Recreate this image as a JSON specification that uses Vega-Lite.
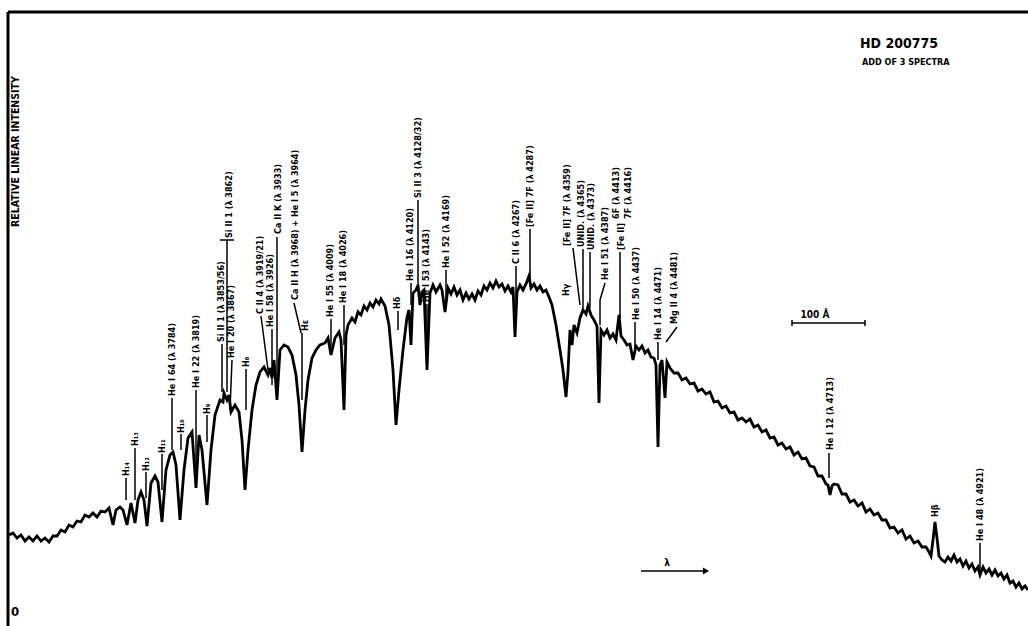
{
  "$schema": "https://vega.github.io/schema/vega-lite/v6.json",
  "autosize": {"type": "none"},
  "width": 1020,
  "height": 614,
  "padding": {"left": 8, "top": 12, "right": 0, "bottom": 0},
  "background": "white",
  "view": {"stroke": null},
  "config": {"font": "Liberation Sans Narrow, DejaVu Sans Condensed, DejaVu Sans, sans-serif"},
  "datasets": {
    "spec": [
      {"l":3557.6,"v":91},{"l":3563.2,"v":93},{"l":3568.8,"v":88},{"l":3574.4,"v":91},{"l":3580,"v":85},{"l":3585.6,"v":89},{"l":3591.2,"v":85},{"l":3596.8,"v":90},{"l":3602.4,"v":85},{"l":3608,"v":88},{"l":3613.6,"v":84},{"l":3619.2,"v":90},{"l":3624.8,"v":90},{"l":3630.4,"v":96},{"l":3636,"v":94},{"l":3641.6,"v":101},{"l":3647.2,"v":99},{"l":3652.8,"v":105},{"l":3658.4,"v":104},{"l":3664,"v":111},{"l":3669.6,"v":109},{"l":3675.2,"v":113},{"l":3680.8,"v":109},{"l":3686.4,"v":115},{"l":3692,"v":114},{"l":3697.6,"v":118},{"l":3703.2,"v":101},{"l":3707.4,"v":116},{"l":3713,"v":119},{"l":3717.2,"v":116},
      {"l":3722.8,"v":101},{"l":3728.4,"v":123},{"l":3734,"v":103},{"l":3738.2,"v":126},{"l":3742.4,"v":134},{"l":3746.6,"v":126},{"l":3750.8,"v":100},{"l":3756.4,"v":143},{"l":3762,"v":150},{"l":3766.2,"v":144},{"l":3771.8,"v":104},{"l":3777.4,"v":156},{"l":3783,"v":171},{"l":3787.2,"v":174},{"l":3791.4,"v":161},{"l":3797,"v":106},{"l":3802.6,"v":156},{"l":3808.2,"v":188},{"l":3813.8,"v":194},{"l":3819.4,"v":138},{"l":3823.6,"v":191},{"l":3827.8,"v":176},{"l":3834.8,"v":121},{"l":3840.4,"v":176},{"l":3846,"v":211},{"l":3853,"v":226},{"l":3857.2,"v":224},{"l":3858.6,"v":233},{"l":3862.8,"v":226},{"l":3865.6,"v":231},{"l":3868.4,"v":214},{"l":3874,"v":221},{"l":3879.6,"v":214},{"l":3883.8,"v":186},{"l":3888,"v":136},{"l":3892.2,"v":176},{"l":3897.8,"v":216},{"l":3903.4,"v":241},{"l":3909,"v":254},{"l":3914.6,"v":259},{"l":3920.2,"v":251},{"l":3923,"v":258},{"l":3925.8,"v":248},{"l":3928.6,"v":266},{"l":3932.8,"v":226},{"l":3937,"v":276},{"l":3942.6,"v":281},{"l":3948.2,"v":279},{"l":3953.8,"v":271},{"l":3959.4,"v":251},{"l":3963.6,"v":221},{"l":3967.8,"v":174},{"l":3972,"v":216},{"l":3976.2,"v":246},{"l":3981.8,"v":268},{"l":3987.4,"v":276},{"l":3993,"v":281},{"l":4000,"v":283},{"l":4004.2,"v":288},{"l":4008.4,"v":271},{"l":4014,"v":288},{"l":4019.6,"v":294},{"l":4022.4,"v":286},{"l":4026.6,"v":216},{"l":4029.4,"v":291},{"l":4032.2,"v":301},{"l":4037.8,"v":308},{"l":4042,"v":304},{"l":4046.2,"v":314},{"l":4050.4,"v":311},{"l":4054.6,"v":320},{"l":4058.8,"v":316},{"l":4063,"v":323},{"l":4067.2,"v":319},{"l":4071.4,"v":326},{"l":4075.6,"v":322},{"l":4078.4,"v":327},{"l":4084,"v":320},{"l":4089.6,"v":301},{"l":4095.2,"v":256},{"l":4099.4,"v":201},{"l":4103.6,"v":236},{"l":4109.2,"v":276},{"l":4114.8,"v":309},{"l":4117.6,"v":316},{"l":4120.4,"v":281},{"l":4123.2,"v":333},{"l":4127.4,"v":336},{"l":4130.2,"v":341},{"l":4133,"v":321},{"l":4135.8,"v":334},{"l":4138.6,"v":336},{"l":4142.8,"v":256},{"l":4147,"v":333},{"l":4151.2,"v":341},{"l":4155.4,"v":334},{"l":4161,"v":341},{"l":4163.8,"v":336},{"l":4168,"v":314},{"l":4172.2,"v":338},{"l":4176.4,"v":332},{"l":4180.6,"v":339},{"l":4184.8,"v":331},{"l":4189,"v":336},{"l":4193.2,"v":326},{"l":4197.4,"v":333},{"l":4201.6,"v":327},{"l":4205.8,"v":332},{"l":4210,"v":326},{"l":4214.2,"v":335},{"l":4218.4,"v":331},{"l":4222.6,"v":340},{"l":4226.8,"v":336},{"l":4231,"v":343},{"l":4235.2,"v":338},{"l":4239.4,"v":345},{"l":4243.6,"v":339},{"l":4247.8,"v":342},{"l":4252,"v":335},{"l":4256.2,"v":340},{"l":4260.4,"v":334},{"l":4263.2,"v":339},{"l":4266,"v":289},{"l":4268.8,"v":334},{"l":4273,"v":341},{"l":4277.2,"v":336},{"l":4281.4,"v":342},{"l":4285.6,"v":350},{"l":4288.4,"v":338},{"l":4292.6,"v":342},{"l":4296.8,"v":336},{"l":4301,"v":340},{"l":4305.2,"v":334},{"l":4309.4,"v":336},{"l":4313.6,"v":329},{"l":4317.8,"v":321},{"l":4323.4,"v":301},{"l":4329,"v":276},{"l":4333.2,"v":256},{"l":4337.4,"v":229},{"l":4340.2,"v":254},{"l":4343,"v":296},{"l":4345.8,"v":281},{"l":4348.6,"v":301},{"l":4352.8,"v":293},{"l":4357,"v":308},{"l":4361.2,"v":316},{"l":4365.4,"v":312},{"l":4368.2,"v":320},{"l":4372.4,"v":311},{"l":4376.6,"v":306},{"l":4380.8,"v":300},{"l":4383.6,"v":223},{"l":4386.4,"v":296},{"l":4390.6,"v":291},{"l":4394.8,"v":296},{"l":4399,"v":288},{"l":4403.2,"v":292},{"l":4407.4,"v":286},{"l":4411.6,"v":311},{"l":4414.4,"v":290},{"l":4418.6,"v":286},{"l":4422.8,"v":281},{"l":4427,"v":282},{"l":4431.2,"v":266},{"l":4435.4,"v":280},{"l":4439.6,"v":276},{"l":4443.8,"v":280},{"l":4448,"v":273},{"l":4452.2,"v":276},{"l":4456.4,"v":269},{"l":4460.6,"v":268},{"l":4463.4,"v":261},{"l":4466.2,"v":179},{"l":4469,"v":261},{"l":4471.8,"v":266},{"l":4476,"v":228},{"l":4478.8,"v":264},{"l":4483,"v":258},
      {"l":4488.6,"v":253},{"l":4494.2,"v":253},{"l":4499.8,"v":246},{"l":4505.4,"v":248},{"l":4511,"v":242},{"l":4516.6,"v":243},{"l":4522.2,"v":235},{"l":4527.8,"v":237},{"l":4533.4,"v":232},{"l":4539,"v":234},{"l":4544.6,"v":224},{"l":4550.2,"v":225},{"l":4555.8,"v":218},{"l":4561.4,"v":220},{"l":4567,"v":213},{"l":4572.6,"v":214},{"l":4578.2,"v":206},{"l":4583.8,"v":208},{"l":4589.4,"v":204},{"l":4595,"v":207},{"l":4600.6,"v":199},{"l":4606.2,"v":201},{"l":4611.8,"v":194},{"l":4617.4,"v":196},{"l":4623,"v":188},{"l":4628.6,"v":189},{"l":4634.2,"v":181},{"l":4639.8,"v":183},{"l":4645.4,"v":177},{"l":4651,"v":179},{"l":4656.6,"v":171},{"l":4662.2,"v":174},{"l":4667.8,"v":167},{"l":4673.4,"v":168},{"l":4679,"v":160},{"l":4684.6,"v":159},{"l":4690.2,"v":150},{"l":4695.8,"v":150},{"l":4701.4,"v":142},{"l":4704.2,"v":141},{"l":4707,"v":131},{"l":4709.8,"v":140},{"l":4712.6,"v":142},{"l":4718.2,"v":141},{"l":4723.8,"v":132},{"l":4729.4,"v":132},{"l":4735,"v":124},{"l":4740.6,"v":126},{"l":4746.2,"v":120},{"l":4751.8,"v":123},{"l":4757.4,"v":114},{"l":4763,"v":117},{"l":4768.6,"v":111},{"l":4774.2,"v":113},{"l":4779.8,"v":106},{"l":4785.4,"v":106},{"l":4791,"v":98},{"l":4796.6,"v":99},{"l":4802.2,"v":93},{"l":4807.8,"v":96},{"l":4813.4,"v":87},{"l":4819,"v":90},{"l":4824.6,"v":83},{"l":4830.2,"v":85},{"l":4835.8,"v":79},{"l":4841.4,"v":79},{"l":4845.6,"v":74},{"l":4848.4,"v":70},{"l":4851.2,"v":86},{"l":4854,"v":104},{"l":4856.8,"v":88},{"l":4859.6,"v":70},{"l":4863.8,"v":66},{"l":4868,"v":64},{"l":4872.2,"v":69},{"l":4876.4,"v":65},{"l":4880.6,"v":71},{"l":4884.8,"v":64},{"l":4889,"v":67},{"l":4893.2,"v":60},{"l":4897.4,"v":65},{"l":4901.6,"v":58},{"l":4905.8,"v":62},{"l":4910,"v":55},{"l":4914.2,"v":59},{"l":4917,"v":51},{"l":4921.2,"v":59},{"l":4925.4,"v":53},{"l":4929.6,"v":57},{"l":4933.8,"v":51},{"l":4938,"v":56},{"l":4942.2,"v":50},{"l":4946.4,"v":53},{"l":4950.6,"v":47},{"l":4954.8,"v":51},{"l":4959,"v":43},{"l":4963.2,"v":45},{"l":4967.4,"v":39},{"l":4971.6,"v":43},{"l":4975.8,"v":37},{"l":4980,"v":40},{"l":4984.2,"v":36}
    ],
    "ticks": [
      {"l":3721.4,"v":148,"l2":3721.4,"v2":126},
      {"l":3734,"v":178,"l2":3734,"v2":126},
      {"l":3749.4,"v":154,"l2":3749.4,"v2":128},
      {"l":3771.8,"v":172,"l2":3771.8,"v2":136},
      {"l":3785.8,"v":228,"l2":3785.8,"v2":176},
      {"l":3798.4,"v":192,"l2":3798.4,"v2":176},
      {"l":3819.4,"v":236,"l2":3819.4,"v2":160},
      {"l":3834.8,"v":211,"l2":3834.8,"v2":184},
      {"l":3855.8,"v":282,"l2":3855.8,"v2":234},
      {"l":3869.8,"v":266,"l2":3867,"v2":216},
      {"l":3853,"v":386,"l2":3872.6,"v2":386},
      {"l":3862.8,"v":386,"l2":3862.8,"v2":234},
      {"l":3889.4,"v":257,"l2":3889.4,"v2":216},
      {"l":3910.4,"v":310,"l2":3920.2,"v2":256},
      {"l":3925.8,"v":297,"l2":3925.8,"v2":241},
      {"l":3932.8,"v":389,"l2":3932.8,"v2":226},
      {"l":3956.6,"v":323,"l2":3966.4,"v2":293},
      {"l":3967.8,"v":293,"l2":3967.8,"v2":226},
      {"l":4008.4,"v":307,"l2":4008.4,"v2":279},
      {"l":4026.6,"v":321,"l2":4026.6,"v2":281},
      {"l":4102.2,"v":315,"l2":4102.2,"v2":296},
      {"l":4120.4,"v":343,"l2":4120.4,"v2":321},
      {"l":4130.2,"v":426,"l2":4130.2,"v2":341},
      {"l":4142.8,"v":322,"l2":4142.8,"v2":276},
      {"l":4169.4,"v":356,"l2":4169.4,"v2":323},
      {"l":4267.4,"v":360,"l2":4267.4,"v2":326},
      {"l":4287,"v":397,"l2":4287,"v2":348},
      {"l":4347.2,"v":378,"l2":4357,"v2":321},
      {"l":4361.2,"v":377,"l2":4361.2,"v2":318},
      {"l":4371,"v":374,"l2":4371,"v2":318},
      {"l":4392,"v":343,"l2":4385,"v2":326},
      {"l":4385,"v":326,"l2":4385,"v2":301},
      {"l":4413,"v":374,"l2":4413,"v2":308},
      {"l":4434,"v":304,"l2":4434,"v2":276},
      {"l":4466.2,"v":284,"l2":4466.2,"v2":266},
      {"l":4492.8,"v":299,"l2":4477.4,"v2":284},
      {"l":4705.6,"v":173,"l2":4705.6,"v2":148},
      {"l":4917,"v":83,"l2":4917,"v2":56},
      {"l":4653.8,"v":303,"l2":4756,"v2":303},
      {"l":4653.8,"v":300,"l2":4653.8,"v2":306},
      {"l":4756,"v":300,"l2":4756,"v2":306},
      {"l":4442.4,"v":55,"l2":4531,"v2":55}
    ],
    "frame": [
      {"l":3556.2,"v":614,"l2":4984.2,"v2":614},
      {"l":3556.2,"v":0,"l2":3556.2,"v2":614}
    ],
    "labels": [
      {"t":"H₁₄","l":3721.4,"v":150},
      {"t":"H₁₃","l":3734,"v":180},
      {"t":"H₁₂","l":3749.4,"v":155},
      {"t":"H₁₁","l":3771.8,"v":173},
      {"t":"He I 64 (λ 3784)","l":3785.8,"v":230},
      {"t":"H₁₀","l":3798.4,"v":193},
      {"t":"He I 22 (λ 3819)","l":3819.4,"v":238},
      {"t":"H₉","l":3834.8,"v":212},
      {"t":"Si II 1 (λ 3853/56)","l":3854.4,"v":284},
      {"t":"He I 20 (λ 3867)","l":3868.4,"v":268},
      {"t":"Si II 1 (λ 3862)","l":3865.6,"v":388},
      {"t":"H₈","l":3889.4,"v":259},
      {"t":"C II 4 (λ 3919/21)","l":3909,"v":312},
      {"t":"He I 58 (λ 3926)","l":3923,"v":299},
      {"t":"Ca II K (λ 3933)","l":3934.2,"v":392},
      {"t":"Ca II H (λ 3968) + He I 5 (λ 3964)","l":3958,"v":326},
      {"t":"Hε","l":3972,"v":295},
      {"t":"He I 55 (λ 4009)","l":4007,"v":309},
      {"t":"He I 18 (λ 4026)","l":4025.2,"v":323},
      {"t":"Hδ","l":4100.8,"v":317},
      {"t":"He I 16 (λ 4120)","l":4119,"v":345},
      {"t":"Si II 3 (λ 4128/32)","l":4130.2,"v":428},
      {"t":"He I 53 (λ 4143)","l":4141.4,"v":324},
      {"t":"He I 52 (λ 4169)","l":4169.4,"v":358},
      {"t":"C II 6 (λ 4267)","l":4267.4,"v":362},
      {"t":"[Fe II] 7F (λ 4287)","l":4287,"v":399},
      {"t":"Hγ","l":4337.4,"v":330},
      {"t":"[Fe II] 7F (λ 4359)","l":4338.8,"v":380},
      {"t":"UNID. (λ 4365)","l":4358.4,"v":379},
      {"t":"UNID. (λ 4373)","l":4372.4,"v":376},
      {"t":"He I 51 (λ 4387)","l":4392,"v":346},
      {"t":"[Fe II]","l":4414.4,"v":376},
      {"t":"6F (λ 4413)","l":4407.4,"v":407},
      {"t":"7F (λ 4416)","l":4424.2,"v":407},
      {"t":"He I 50 (λ 4437)","l":4435.4,"v":306},
      {"t":"He I 14 (λ 4471)","l":4466.2,"v":286},
      {"t":"Mg II 4 (λ 4481)","l":4488.6,"v":302},
      {"t":"He I 12 (λ 4713)","l":4707,"v":176},
      {"t":"Hβ","l":4854,"v":109},
      {"t":"He I 48 (λ 4921)","l":4917,"v":85}
    ]
  },
  "layer": [
    {
      "data": {"name": "frame"},
      "mark": {"type": "rule", "color": "black", "strokeWidth": 3},
      "encoding": {
        "x": {"field": "l", "type": "quantitative", "scale": {"domain": [3556.2, 4984.2], "nice": false, "zero": false}, "axis": null},
        "y": {"field": "v", "type": "quantitative", "scale": {"domain": [0, 614], "nice": false, "zero": false}, "axis": null},
        "x2": {"field": "l2"},
        "y2": {"field": "v2"}
      }
    },
    {
      "data": {"name": "spec"},
      "mark": {"type": "line", "color": "black", "strokeWidth": 2.8, "strokeJoin": "miter"},
      "encoding": {
        "x": {"field": "l", "type": "quantitative", "scale": {"domain": [3556.2, 4984.2], "nice": false, "zero": false}, "axis": null},
        "y": {"field": "v", "type": "quantitative", "scale": {"domain": [0, 614], "nice": false, "zero": false}, "axis": null}
      }
    },
    {
      "data": {"name": "ticks"},
      "mark": {"type": "rule", "color": "black", "strokeWidth": 1.5},
      "encoding": {
        "x": {"field": "l", "type": "quantitative", "scale": {"domain": [3556.2, 4984.2], "nice": false, "zero": false}, "axis": null},
        "y": {"field": "v", "type": "quantitative", "scale": {"domain": [0, 614], "nice": false, "zero": false}, "axis": null},
        "x2": {"field": "l2"},
        "y2": {"field": "v2"}
      }
    },
    {
      "data": {"values": [{"l": 4533.4, "v": 55}]},
      "mark": {"type": "point", "shape": "triangle-right", "filled": true, "color": "black", "size": 50, "opacity": 1},
      "encoding": {
        "x": {"field": "l", "type": "quantitative", "scale": {"domain": [3556.2, 4984.2], "nice": false, "zero": false}, "axis": null},
        "y": {"field": "v", "type": "quantitative", "scale": {"domain": [0, 614], "nice": false, "zero": false}, "axis": null}
      }
    },
    {
      "data": {"name": "labels"},
      "mark": {"type": "text", "angle": 270, "align": "left", "baseline": "middle", "fontSize": 9, "fontWeight": "bold", "color": "black"},
      "encoding": {
        "x": {"field": "l", "type": "quantitative", "scale": {"domain": [3556.2, 4984.2], "nice": false, "zero": false}, "axis": null},
        "y": {"field": "v", "type": "quantitative", "scale": {"domain": [0, 614], "nice": false, "zero": false}, "axis": null},
        "text": {"field": "t"}
      }
    },
    {
      "data": {"values": [{"t": "RELATIVE LINEAR  INTENSITY", "l": 3567.4, "v": 399}]},
      "mark": {"type": "text", "angle": 270, "align": "left", "baseline": "middle", "fontSize": 10.5, "fontWeight": "bold", "color": "black"},
      "encoding": {
        "x": {"field": "l", "type": "quantitative", "scale": {"domain": [3556.2, 4984.2], "nice": false, "zero": false}, "axis": null},
        "y": {"field": "v", "type": "quantitative", "scale": {"domain": [0, 614], "nice": false, "zero": false}, "axis": null},
        "text": {"field": "t"}
      }
    },
    {
      "data": {"values": [{"t": "HD 200775", "l": 4749, "v": 578}]},
      "mark": {"type": "text", "align": "left", "baseline": "alphabetic", "fontSize": 14, "fontWeight": "bold", "color": "black"},
      "encoding": {
        "x": {"field": "l", "type": "quantitative", "scale": {"domain": [3556.2, 4984.2], "nice": false, "zero": false}, "axis": null},
        "y": {"field": "v", "type": "quantitative", "scale": {"domain": [0, 614], "nice": false, "zero": false}, "axis": null},
        "text": {"field": "t"}
      }
    },
    {
      "data": {"values": [{"t": "ADD OF 3 SPECTRA", "l": 4751.8, "v": 561}]},
      "mark": {"type": "text", "align": "left", "baseline": "alphabetic", "fontSize": 9, "fontWeight": "bold", "color": "black"},
      "encoding": {
        "x": {"field": "l", "type": "quantitative", "scale": {"domain": [3556.2, 4984.2], "nice": false, "zero": false}, "axis": null},
        "y": {"field": "v", "type": "quantitative", "scale": {"domain": [0, 614], "nice": false, "zero": false}, "axis": null},
        "text": {"field": "t"}
      }
    },
    {
      "data": {"values": [{"t": "0", "l": 3560.4, "v": 14}]},
      "mark": {"type": "text", "align": "left", "baseline": "middle", "fontSize": 13, "fontWeight": "bold", "color": "black"},
      "encoding": {
        "x": {"field": "l", "type": "quantitative", "scale": {"domain": [3556.2, 4984.2], "nice": false, "zero": false}, "axis": null},
        "y": {"field": "v", "type": "quantitative", "scale": {"domain": [0, 614], "nice": false, "zero": false}, "axis": null},
        "text": {"field": "t"}
      }
    },
    {
      "data": {"values": [{"t": "100 Å", "l": 4686, "v": 308}, {"t": "λ", "l": 4478.8, "v": 60}]},
      "mark": {"type": "text", "align": "center", "baseline": "alphabetic", "fontSize": 10, "fontWeight": "bold", "color": "black"},
      "encoding": {
        "x": {"field": "l", "type": "quantitative", "scale": {"domain": [3556.2, 4984.2], "nice": false, "zero": false}, "axis": null},
        "y": {"field": "v", "type": "quantitative", "scale": {"domain": [0, 614], "nice": false, "zero": false}, "axis": null},
        "text": {"field": "t"}
      }
    }
  ]
}
